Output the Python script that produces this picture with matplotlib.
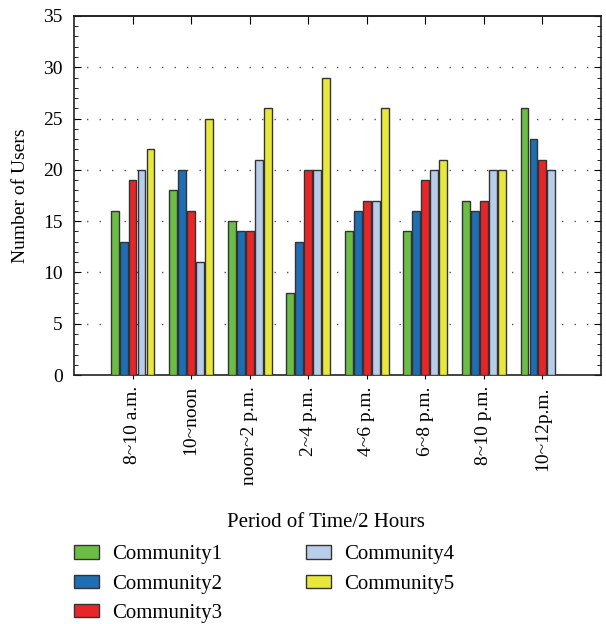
"""Number of users per community over two-hour periods."""

import matplotlib
matplotlib.use("Agg")
import matplotlib.pyplot as plt
import matplotlib.ticker as mticker
import numpy as np

plt.rcParams.update({
    "font.family": "serif",
    "font.serif": ["Liberation Serif", "DejaVu Serif"],
    "font.size": 11,
})

periods = ["8~10 a.m.", "10~noon", "noon~2 p.m.", "2~4 p.m.",
           "4~6 p.m.", "6~8 p.m.", "8~10 p.m.", "10~12p.m."]
communities = ["Community1", "Community2", "Community3", "Community4", "Community5"]

community1 = [16, 18, 15, 8, 14, 14, 17, 26]
community2 = [13, 20, 14, 13, 16, 16, 16, 23]
community3 = [19, 16, 14, 20, 17, 19, 17, 21]
community4 = [20, 11, 21, 20, 17, 20, 20, 20]
community5 = [22, 25, 26, 29, 26, 21, 20, 0]

colors = ["#6cbd45", "#1f6eb4", "#e8262a", "#b8cde9", "#e8e83c"]

series = [community1, community2, community3, community4, community5]

fig = plt.figure(figsize=(6.06, 6.24), dpi=100)
ax = fig.add_axes([0.1221, 0.399, 0.8696, 0.5754])

x = np.arange(1, len(periods) + 1)
step = 0.153
width = 0.135
for i, (vals, col, name) in enumerate(zip(series, colors, communities)):
    ax.bar(x + (i - 2) * step, vals, width, color=col, edgecolor="#333333",
           linewidth=1.0, label=name, zorder=3)

ax.set_xlim(0, 9)
ax.set_ylim(0, 35)
ax.set_xticks(x)
ax.set_xticklabels(periods, rotation=90, fontsize=14)
ax.yaxis.set_major_locator(mticker.MultipleLocator(5))
ax.yaxis.set_minor_locator(mticker.MultipleLocator(1))
ax.tick_params(axis="y", which="both", direction="in", right=True, labelsize=14, pad=8)
ax.tick_params(axis="y", which="major", length=5)
ax.tick_params(axis="y", which="minor", length=3)
ax.tick_params(axis="x", which="major", direction="out", length=3, pad=5)

top = ax.secondary_xaxis("top")
top.set_xticks(x)
top.tick_params(direction="in", length=6, labeltop=False)

for y in range(5, 35, 5):
    ax.axhline(y, color="#555555", linestyle=(0, (1, 8)), linewidth=1, zorder=1)

for sp in list(ax.spines.values()) + [top.spines["top"]]:
    sp.set_linewidth(1.2)
    sp.set_color("#222222")

ax.set_ylabel("Number of Users", fontsize=14, labelpad=10)
ax.set_xlabel("Period of Time/2 Hours", fontsize=15, labelpad=16)
ax.xaxis.set_label_coords(0.478, -0.385)

handles, labels = ax.get_legend_handles_labels()
fig.legend(handles, labels, loc="upper left", bbox_to_anchor=(0.122, 0.126),
           ncol=2, frameon=False, fontsize=15, handlelength=1.2, handleheight=0.6,
           labelspacing=0.5, columnspacing=4.0, handletextpad=0.63,
           borderpad=0, borderaxespad=0)

fig.savefig("out.png", dpi=100)
